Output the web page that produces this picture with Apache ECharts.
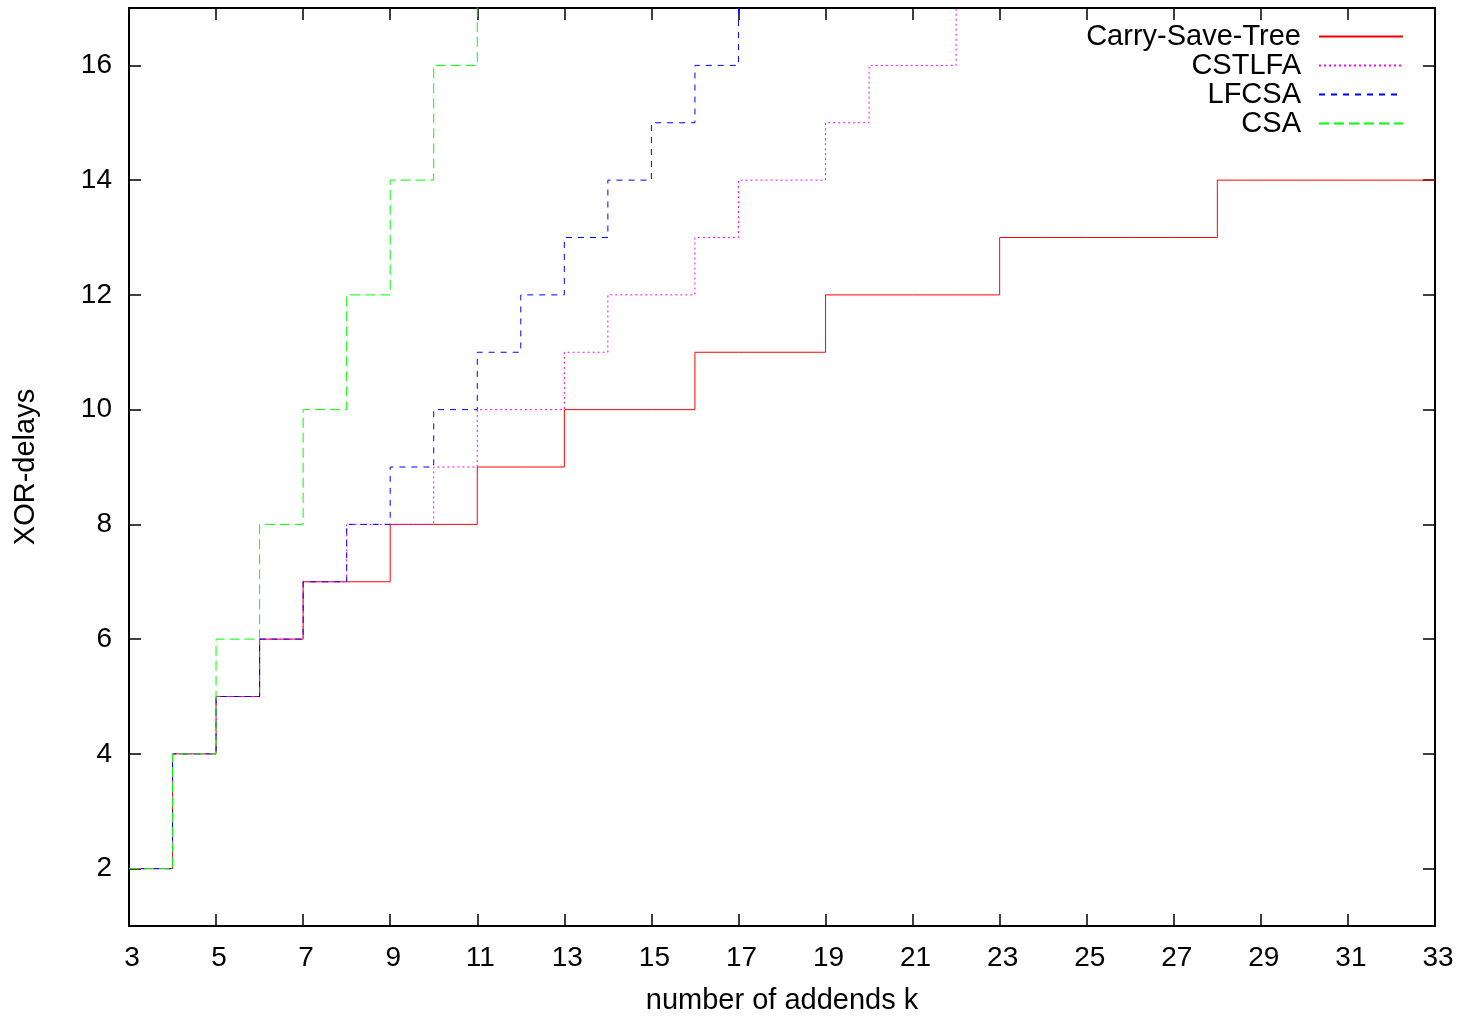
<!DOCTYPE html>
<html>
<head>
<meta charset="utf-8">
<title>XOR-delays</title>
<script src="https://cdn.jsdelivr.net/npm/echarts@6/dist/echarts.min.js"></script>
<style>
    html, body { margin: 0; padding: 0; background: #fff; }
    #chart { width: 1463px; height: 1016px; }
</style>
</head>
<body>
<div id="chart"></div>
<script>
// number of addends k, one entry per step
var addends = [3, 4, 5, 6, 7, 8, 9, 10, 11, 12, 13, 14, 15, 16, 17, 18, 19, 20, 21, 22, 23, 24, 25, 26, 27, 28, 29, 30, 31, 32, 33];

// XOR-delays (last value of a series runs off the top)
var carrySaveTree = [2, 4, 5, 6, 7, 7, 8, 8, 9, 9, 10, 10, 10, 11, 11, 11, 12, 12, 12, 12, 13, 13, 13, 13, 13, 14, 14, 14, 14, 14, 14];
var cstlfa = [2, 4, 5, 6, 7, 8, 8, 9, 10, 10, 11, 12, 12, 13, 14, 14, 15, 16, 16, 17];
var lfcsa = [2, 4, 5, 6, 7, 8, 9, 10, 11, 12, 13, 14, 15, 16, 17];
var csa = [2, 4, 6, 8, 10, 12, 14, 16, 18];

var xTicks = [3, 5, 7, 9, 11, 13, 15, 17, 19, 21, 23, 25, 27, 29, 31, 33];
var yTicks = [2, 4, 6, 8, 10, 12, 14, 16];

function pairs(values) {
    var out = [];
    for (var i = 0; i < values.length; i++) {
        out.push([addends[i], values[i]]);
    }
    return out;
}

var font = '"Liberation Sans", Arial, Helvetica, sans-serif';

function xAxisOf(pos, showLabel) {
    return {
        type: 'value',
        position: pos,
        min: 3,
        max: 33,
        name: showLabel ? 'number of addends k' : '',
        nameLocation: 'middle',
        nameGap: 60,
        nameTextStyle: { color: '#000', fontSize: 29, fontFamily: font },
        axisLine: { show: true, onZero: false, lineStyle: { color: '#000', width: 2 } },
        axisTick: { show: true, inside: true, length: 12, customValues: xTicks, lineStyle: { color: '#000', width: 1.5 } },
        axisLabel: { show: showLabel, customValues: xTicks, margin: 18, padding: [0, 0, 0, 6], color: '#000', fontSize: 28, fontFamily: font },
        splitLine: { show: false }
    };
}

function yAxisOf(pos, showLabel) {
    return {
        type: 'value',
        position: pos,
        min: 1,
        max: 17,
        name: showLabel ? 'XOR-delays' : '',
        nameLocation: 'middle',
        nameGap: 89,
        nameTextStyle: { color: '#000', fontSize: 29, fontFamily: font },
        axisLine: { show: true, onZero: false, lineStyle: { color: '#000', width: 2 } },
        axisTick: { show: true, inside: true, length: 12, customValues: yTicks, lineStyle: { color: '#000', width: 1.5 } },
        axisLabel: { show: showLabel, customValues: yTicks, margin: 17, color: '#000', fontSize: 28, fontFamily: font },
        splitLine: { show: false }
    };
}

function stepSeries(name, values, color, dash) {
    return {
        name: name,
        type: 'line',
        step: 'end',
        data: pairs(values),
        symbol: 'none',
        showSymbol: false,
        clip: true,
        silent: true,
        lineStyle: { color: color, width: 1, type: dash },
        itemStyle: { color: color }
    };
}

var chart = echarts.init(document.getElementById('chart'), null, { renderer: 'canvas' });
var option = {
    backgroundColor: '#fff',
    animation: false,
    grid: {
        left: 129,
        right: 28,
        top: 8,
        bottom: 90,
        outerBoundsMode: 'none'
    },
    legend: {
        orient: 'vertical',
        right: 54,
        top: 17,
        align: 'right',
        itemWidth: 84,
        itemHeight: 14,
        itemGap: 0,
        selectedMode: false,
        itemStyle: { opacity: 0 },
        textStyle: { color: '#000', fontSize: 29, fontFamily: font, lineHeight: 29, padding: [0, 13, 0, 0] },
        data: ['Carry-Save-Tree', 'CSTLFA', 'LFCSA', 'CSA']
    },
    xAxis: [xAxisOf('bottom', true), xAxisOf('top', false)],
    yAxis: [yAxisOf('left', true), yAxisOf('right', false)],
    series: [
        stepSeries('Carry-Save-Tree', carrySaveTree, '#ff0000', 'solid'),
        stepSeries('CSTLFA', cstlfa, '#ff00ff', [2, 3]),
        stepSeries('LFCSA', lfcsa, '#0000ff', [6, 6]),
        stepSeries('CSA', csa, '#00ff00', [10, 5])
    ]
};
chart.setOption(option);
</script>
</body>
</html>
